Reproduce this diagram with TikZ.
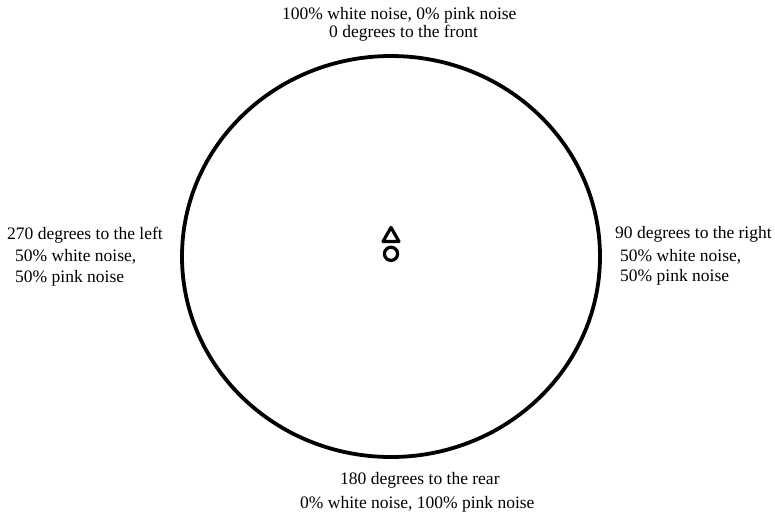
\documentclass[tikz,border=0pt]{standalone}
\usepackage{fontspec}
\setmainfont{Liberation Serif}
\begin{document}
\begin{tikzpicture}[x=1pt,y=-1pt,
  lbl/.style={inner sep=0pt,font=\fontsize{17.5}{20}\selectfont},
  ring/.style={draw=black,line width=3.8pt},
  symline/.style={draw=black,line width=3.2pt}]
\useasboundingbox (0,0) rectangle (775,515);
\fill[white] (0,0) rectangle (775,515);
\coordinate (ctr) at (391,256.5);
\draw[ring] (ctr) ellipse [x radius=209, y radius=200.5];
% central symbol
\draw[symline,line join=round] (391,227.5) -- (399,241.5) -- (383,241.5) -- cycle;
\draw[symline] (391,253.8) circle [radius=6.6];
% top
\node[lbl,anchor=base west] (t1) at (282,19) {100\% white noise, 0\% pink noise};
\node[lbl,anchor=base west] (t2) at (329,37) {0 degrees to the front};
% left
\node[lbl,anchor=base west] (l1) at (7,239) {270 degrees to the left};
\node[lbl,anchor=base west] (l2) at (15,261) {50\% white noise,};
\node[lbl,anchor=base west] (l3) at (15,282) {50\% pink noise};
% right
\node[lbl,anchor=base west] (r1) at (615,238) {90 degrees to the right};
\node[lbl,anchor=base west] (r2) at (620,261) {50\% white noise,};
\node[lbl,anchor=base west] (r3) at (620,281) {50\% pink noise};
% bottom
\node[lbl,anchor=base west] (b1) at (340,484) {180 degrees to the rear};
\node[lbl,anchor=base west] (b2) at (300,508) {0\% white noise, 100\% pink noise};
\end{tikzpicture}
\end{document}
